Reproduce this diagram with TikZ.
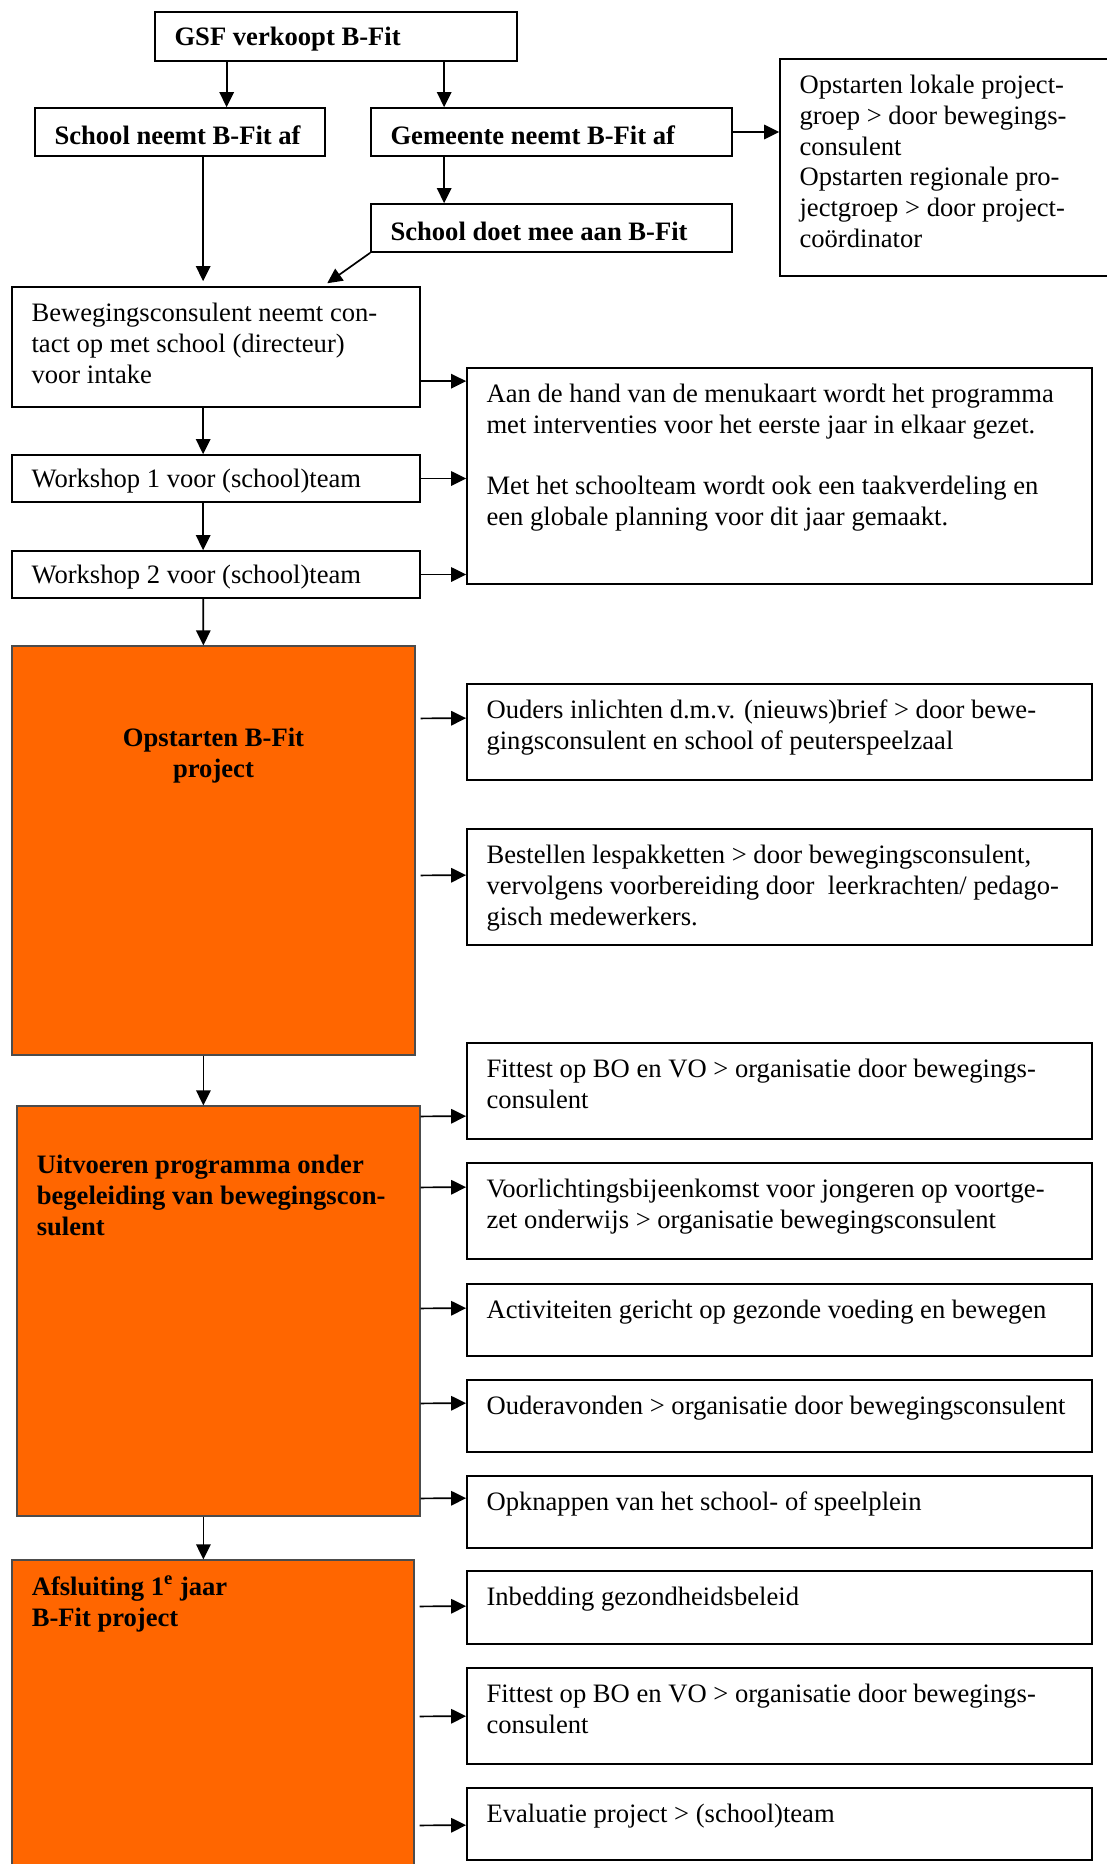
\documentclass[tikz,border=0pt]{standalone}
\usepackage{fontspec}
\setmainfont{Liberation Serif}
\usepackage{tikz}
\usetikzlibrary{fit,arrows.meta}
\definecolor{bfitorange}{RGB}{255,102,0}

\begin{document}
\begin{tikzpicture}[x=0.5pt,y=-0.5pt,
            box/.style={draw, line width=0.85pt, inner sep=0pt},
            obox/.style={box, fill=bfitorange, draw=black!70, line width=0.6pt},
            txt/.style={font=\fontsize{13.3}{15.4}\selectfont, align=left, inner xsep=10pt, inner ysep=8.2pt},
            btxt/.style={txt, font=\fontsize{13.3}{15.4}\selectfont\bfseries},
            arr/.style={-{Triangle[length=7.5pt,width=7.2pt]}, line width=0.85pt}]
            \fill[white] (0,0) rectangle (1107,1864);
            \useasboundingbox (0,0) rectangle (1107,1864);

            % top part
            \node[box, fit={(155,12) (517,61)}, label={[btxt,anchor=west,yshift=-1.5pt]west:{GSF verkoopt B-Fit}}] (gsf) {};
            \node[box, fit={(35,108) (325,156)}, label={[btxt,anchor=west,yshift=-1.5pt]west:{School neemt B-Fit af}}] (sn) {};
            \node[box, fit={(371,108) (732,156)}, label={[btxt,anchor=west,yshift=-1.5pt]west:{Gemeente neemt B-Fit af}}] (gem) {};
            \node[box, fit={(371,204) (732,252)}, label={[btxt,anchor=west,yshift=-1.5pt]west:{School doet mee aan B-Fit}}] (sdoet) {};
            \node[box, fit={(780,59) (1115,276)}, label={[txt,anchor=north west]north west:{Opstarten lokale project-\\groep > door bewegings-\\consulent\\Opstarten regionale pro-\\jectgroep > door project-\\coördinator}}] (proj) {};

            \node[box, fit={(12,287) (420,407)}, label={[txt,anchor=north west]north west:{Bewegingsconsulent neemt con-\\tact op met school (directeur)\\voor intake}}] (bew) {};
            \node[box, fit={(467,368) (1092,584)}, label={[txt,anchor=north west]north west:{Aan de hand van de menukaart wordt het programma\\met interventies voor het eerste jaar in elkaar gezet.\\[15.4pt]Met het schoolteam wordt ook een taakverdeling en\\een globale planning voor dit jaar gemaakt.}}] (aan) {};
            \node[box, fit={(12,455) (420,502)}, label={[txt,anchor=west,yshift=-1.5pt]west:{Workshop 1 voor (school)team}}] (ws1) {};
            \node[box, fit={(12,551) (420,598)}, label={[txt,anchor=west,yshift=-1.5pt]west:{Workshop 2 voor (school)team}}] (ws2) {};
            \coordinate (aanin) at ([shift={(0,14)}]aan.north west);

            % orange blocks
            \node[obox, fit={(12,646) (415,1055)}, label={[btxt,align=center,anchor=north,yshift=-33pt]north:{Opstarten B-Fit\\project}}] (opst) {};
            \node[obox, fit={(17,1106) (420,1516)}, label={[btxt,anchor=north west,yshift=-16.5pt]north west:{Uitvoeren programma onder\\begeleiding van bewegingscon-\\sulent}}] (uit) {};
            \node[obox, fit={(12,1560) (414,1880)}, label={[btxt,anchor=north west]north west:{Afsluiting 1\textsuperscript{e} jaar\\B-Fit project}}] (afs) {};

            % right column
            \node[box, fit={(467,684) (1092,780)}, label={[txt,anchor=north west]north west:{Ouders inlichten d.m.v. (nieuws)brief > door bewe-\\gingsconsulent en school of peuterspeelzaal}}] (ouders) {};
            \node[box, fit={(467,829) (1092,945)}, label={[txt,anchor=north west]north west:{Bestellen lespakketten > door bewegingsconsulent,\\vervolgens voorbereiding door\ \ leerkrachten/ pedago-\\gisch medewerkers.}}] (best) {};
            \node[box, fit={(467,1043) (1092,1139)}, label={[txt,anchor=north west]north west:{Fittest op BO en VO > organisatie door bewegings-\\consulent}}] (fit1) {};
            \node[box, fit={(467,1163) (1092,1259)}, label={[txt,anchor=north west]north west:{Voorlichtingsbijeenkomst voor jongeren op voortge-\\zet onderwijs > organisatie bewegingsconsulent}}] (voor) {};
            \node[box, fit={(467,1284) (1092,1356)}, label={[txt,anchor=north west]north west:{Activiteiten gericht op gezonde voeding en bewegen}}] (act) {};
            \node[box, fit={(467,1380) (1092,1452)}, label={[txt,anchor=north west]north west:{Ouderavonden > organisatie door bewegingsconsulent}}] (oud) {};
            \node[box, fit={(467,1476) (1092,1548)}, label={[txt,anchor=north west]north west:{Opknappen van het school- of speelplein}}] (opk) {};
            \node[box, fit={(467,1571) (1092,1644)}, label={[txt,anchor=north west]north west:{Inbedding gezondheidsbeleid}}] (inb) {};
            \node[box, fit={(467,1668) (1092,1764)}, label={[txt,anchor=north west]north west:{Fittest op BO en VO > organisatie door bewegings-\\consulent}}] (fit2) {};
            \node[box, fit={(467,1788) (1092,1860)}, label={[txt,anchor=north west]north west:{Evaluatie project > (school)team}}] (eva) {};

            % arrows
            \draw[arr] ([shift={(72.5,0)}]gsf.south west) -- ([shift={(192.5,0)}]sn.north west);
            \draw[arr] ([shift={(290,0)}]gsf.south west) -- ([shift={(74,0)}]gem.north west);
            \draw[arr] ([shift={(74,0)}]gem.south west) -- ([shift={(74,0)}]sdoet.north west);
            \draw[arr] (gem.east) -- (gem.east -| proj.west);
            \draw[arr, shorten >=2.5pt] ([shift={(169,0)}]sn.south west) -- ([shift={(192,0)}]bew.north west);
            \draw[arr, shorten >=2.5pt] (sdoet.south west) -- ([shift={(312,0)}]bew.north west);
            \draw[arr] (aanin -| bew.east) -- (aanin);
            \draw[arr] ([shift={(192,0)}]bew.south west) -- ([shift={(192,0)}]ws1.north west);
            \draw[arr] (ws1.east) -- (ws1.east -| aan.west);
            \draw[arr] ([shift={(192,0)}]ws1.south west) -- ([shift={(192,0)}]ws2.north west);
            \draw[arr] (ws2.east) -- (ws2.east -| aan.west);
            \draw[arr] ([shift={(192,0)}]ws2.south west) -- ([shift={(192,0)}]opst.north west);
            \draw[arr] ([shift={(5,73)}]opst.north east) -- ([shift={(0,35)}]ouders.north west);
            \draw[arr] ([shift={(5,230)}]opst.north east) -- ([shift={(0,47)}]best.north west);
            \draw[arr] ([shift={(192,0)}]opst.south west) -- ([shift={(187,0)}]uit.north west);
            \draw[arr] ([shift={(0,11)}]uit.north east) -- ([shift={(0,74)}]fit1.north west);
            \draw[arr] ([shift={(0,82)}]uit.north east) -- ([shift={(0,25)}]voor.north west);
            \draw[arr] ([shift={(0,203)}]uit.north east) -- ([shift={(0,25)}]act.north west);
            \draw[arr] ([shift={(0,298)}]uit.north east) -- ([shift={(0,24)}]oud.north west);
            \draw[arr] ([shift={(0,393)}]uit.north east) -- ([shift={(0,23)}]opk.north west);
            \draw[arr] ([shift={(187,0)}]uit.south west) -- ([shift={(192,0)}]afs.north west);
            \draw[arr] ([shift={(5,47)}]afs.north east) -- ([shift={(0,36)}]inb.north west);
            \draw[arr] ([shift={(5,157)}]afs.north east) -- ([shift={(0,49)}]fit2.north west);
            \draw[arr] ([shift={(5,266)}]afs.north east) -- ([shift={(0,38)}]eva.north west);
\end{tikzpicture}
\end{document}
